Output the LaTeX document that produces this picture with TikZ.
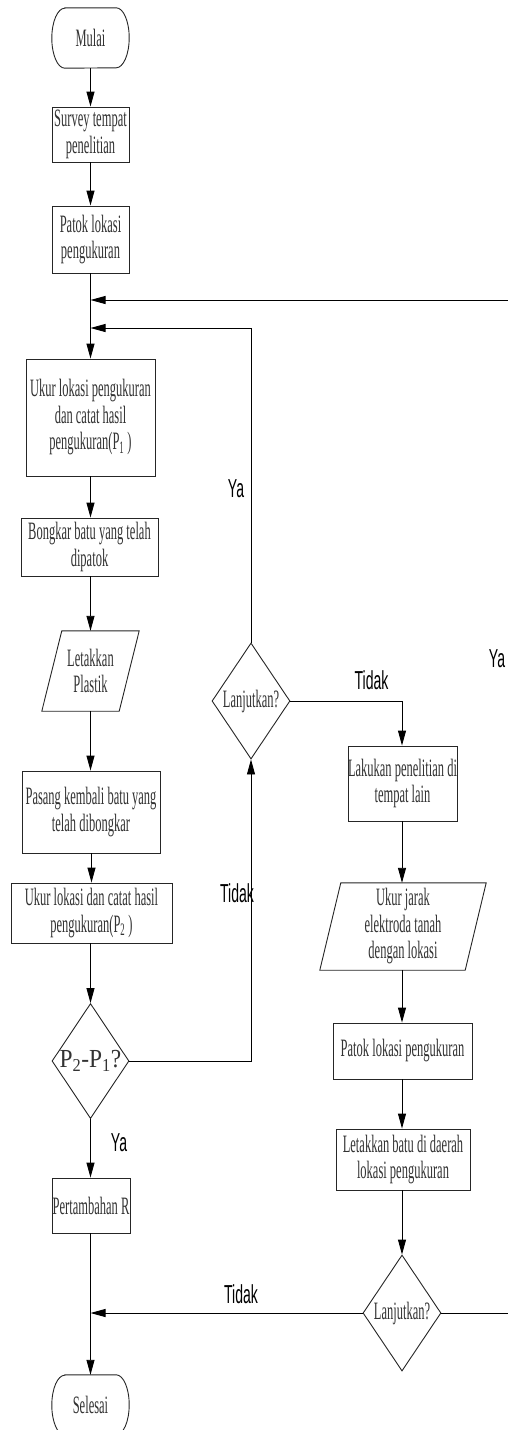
\documentclass[tikz,border=0pt]{standalone}
\usepackage{fontspec}
\usetikzlibrary{arrows.meta,shapes.geometric}
\newfontfamily\cond[FakeStretch=0.5]{Liberation Serif}
\newfontfamily\lblfont[FakeStretch=0.54]{Liberation Sans}
\newfontfamily\pfont[FakeStretch=0.9]{Liberation Serif}
\newcommand\drawterm[1]{\draw[shapeline] ([xshift=13pt]#1.north west) -- ([xshift=-13pt]#1.north east) arc[start angle=90,end angle=-90,x radius=13pt,y radius=30pt] -- ([xshift=13pt]#1.south west) arc[start angle=270,end angle=90,x radius=13pt,y radius=30pt] -- cycle;}
\newcommand\drawpara[2]{\draw[shapeline] ([xshift=#2]#1.north west) -- ([xshift=#2]#1.north east) -- ([xshift=-#2]#1.south east) -- ([xshift=-#2]#1.south west) -- cycle;}
\tikzset{
  shapeline/.style={line width=0.9pt, draw=black!85},
  txt/.style={font=\cond\fontsize{25}{26.5}\selectfont, align=center, text=black!80, inner sep=0pt},
  ptxt/.style={font=\pfont\fontsize{26}{26}\selectfont, align=center, text=black!80, inner sep=0pt},
  box/.style={rectangle, draw=black!85, line width=0.9pt, inner sep=0pt},
  hold/.style={rectangle, draw=none, inner sep=0pt},
  dia/.style={diamond, draw=black!85, line width=0.9pt, inner sep=0pt, minimum width=78pt, minimum height=116pt},
  arr/.style={-{Triangle[length=15pt,width=8pt]}, line width=0.9pt},
  ln/.style={line width=0.9pt},
  lbl/.style={font=\lblfont\fontsize{26}{26}\selectfont, text=black, inner sep=0pt}
}
\begin{document}
\begin{tikzpicture}[x=1pt,y=1pt]
\fill[white] (0,0) rectangle (508,-1430);
\useasboundingbox (0,0) rectangle (508,-1430);
% left column
\node[hold, minimum width=77pt, minimum height=60pt, label={[txt]center:Mulai}] (mulai) at (90.5,-38) {};
\drawterm{mulai}
\node[box, minimum width=77pt, minimum height=55pt, label={[txt]center:Survey tempat\\penelitian}] (survey) at (90.5,-134.5) {};
\node[box, minimum width=77pt, minimum height=67pt, label={[txt]center:Patok lokasi\\pengukuran}] (patok1) at (90.5,-239.5) {};
\coordinate (j1) at (90.5,-300);
\coordinate (j2) at (90.5,-328);
\coordinate (r1) at (508,-300);
\node[box, minimum width=129pt, minimum height=117pt, label={[txt]center:Ukur lokasi pengukuran\\dan catat hasil\\pengukuran(P\textsubscript{1} )}] (ukur1) at (90.5,-417.5) {};
\node[box, minimum width=137pt, minimum height=58pt, label={[txt]center:Bongkar batu yang telah\\dipatok}] (bongkar) at (89.5,-547) {};
\node[hold, minimum width=77pt, minimum height=80pt, label={[txt]center:Letakkan\\Plastik}] (plastik) at (90.5,-671) {};
\drawpara{plastik}{10pt}
\node[box, minimum width=138pt, minimum height=82pt, label={[txt]center:Pasang kembali batu yang\\telah dibongkar}] (pasang) at (91,-812) {};
\node[box, minimum width=161pt, minimum height=60pt, label={[txt]center:Ukur lokasi dan catat hasil\\pengukuran(P\textsubscript{2} )}] (ukur2) at (91.5,-913) {};
\node[dia, minimum width=77pt, minimum height=115pt, label={[ptxt]center:P\textsubscript{2}-P\textsubscript{1}?}] (pd) at (90.5,-1061) {};
\node[box, minimum width=78pt, minimum height=55pt, label={[txt]center:Pertambahan R}] (tambah) at (91,-1205.5) {};
\coordinate (j3) at (90.5,-1313);
\node[hold, minimum width=77pt, minimum height=60pt, label={[txt]center:Selesai}] (selesai) at (90.5,-1405) {};
\drawterm{selesai}
% middle / right column
\node[dia, label={[txt]center:Lanjutkan?}] (l1) at (251,-701) {};
\node[box, minimum width=109pt, minimum height=75pt, label={[txt]center:Lakukan penelitian di\\tempat lain}] (lakukan) at (402.5,-783.5) {};
\node[hold, minimum width=145pt, minimum height=87pt, label={[txt]center:Ukur jarak\\elektroda tanah\\dengan lokasi}] (jarak) at (403,-926.5) {};
\drawpara{jarak}{10.5pt}
\node[box, minimum width=139pt, minimum height=56pt, label={[txt]center:Patok lokasi pengukuran}] (patok2) at (402.5,-1051) {};
\node[box, minimum width=134pt, minimum height=61pt, label={[txt]center:Letakkan batu di daerah\\lokasi pengukuran}] (batu) at (403,-1159.5) {};
\node[dia, label={[txt]center:Lanjutkan?}] (l2) at (402,-1313) {};
\coordinate (r2) at (508,-1313);
% connectors
\draw[arr] (mulai.south) -- (survey.north);
\draw[arr] (survey.south) -- (patok1.north);
\draw[arr] (patok1.south) -- (ukur1.north);
\draw[arr] (r1) -- (j1);
\draw[arr] (l1.north) |- (j2);
\draw[arr] (ukur1.south) -- (bongkar.north -| ukur1.south);
\draw[arr] (bongkar.south -| plastik.north) -- (plastik.north);
\draw[arr] (plastik.south) -- (pasang.north -| plastik.south);
\draw[arr] (pasang.south -| ukur2.north) -- (ukur2.north);
\draw[arr] (ukur2.south -| pd.north) -- (pd.north);
\draw[arr] (pd.east) -| (l1.south);
\draw[arr] (pd.south) -- (tambah.north -| pd.south);
\draw[arr] (tambah.south -| selesai.north) -- (selesai.north);
\draw[arr] (l1.east) -| (lakukan.north -| l2.north);
\draw[arr] (lakukan.south -| l2.north) -- (jarak.north -| l2.north);
\draw[arr] (jarak.south -| l2.north) -- (patok2.north -| l2.north);
\draw[arr] (patok2.south -| l2.north) -- (batu.north -| l2.north);
\draw[arr] (batu.south -| l2.north) -- (l2.north);
\draw[arr] (l2.west) -- (j3);
\draw[ln] (l2.east) -- (r2);
% labels
\node[lbl] (ya1) at (236,-489) {Ya};
\node[lbl] (td1) at (371.5,-680) {Tidak};
\node[lbl] (ya2) at (497,-659) {Ya};
\node[lbl] (td2) at (237,-893) {Tidak};
\node[lbl] (ya3) at (119,-1143) {Ya};
\node[lbl] (td3) at (241,-1294) {Tidak};
\end{tikzpicture}
\end{document}
